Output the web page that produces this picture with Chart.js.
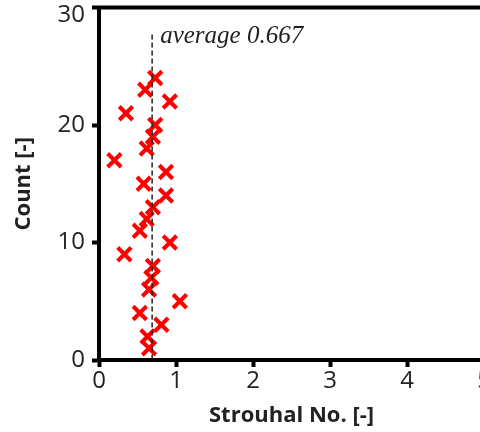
<!DOCTYPE html>
<html><head><meta charset="utf-8">
<script src="https://cdn.jsdelivr.net/npm/chart.js@4/dist/chart.umd.min.js"></script>
<style>html,body{margin:0;padding:0;overflow:hidden;background:#fff;width:480px;height:432px}</style>
</head><body>
<canvas id="c" width="510" height="438" style="display:block;width:510px;height:438px;margin-top:-6px"></canvas>
<script>
const counts = [1,2,3,4,5,6,7,8,9,10,11,12,13,14,15,16,17,18,19,20,21,22,23,24];
const strouhal = [0.65,0.63,0.81,0.53,1.05,0.65,0.68,0.70,0.33,0.92,0.53,0.62,0.70,0.87,0.58,0.87,0.20,0.62,0.70,0.73,0.35,0.92,0.60,0.73];
const xTicks = [0,1,2,3,4,5];
const yTicks = [0,10,20,30];
const averageLineX = 0.69;
const averageLineTop = 27.7;
const averageLabel = 'average 0.667';

const framePlugin = {
  id: 'frame',
  afterDraw(chart) {
    const {ctx, chartArea, scales} = chart;
    ctx.save();
    ctx.strokeStyle = '#000';
    ctx.lineWidth = 4;
    ctx.beginPath();
    ctx.moveTo(chartArea.left - 2, chartArea.top);
    ctx.lineTo(chart.width, chartArea.top);
    ctx.stroke();
    const x = scales.x.getPixelForValue(averageLineX);
    ctx.strokeStyle = '#222';
    ctx.lineWidth = 1.5;
    ctx.setLineDash([5, 3]);
    ctx.beginPath();
    ctx.moveTo(x, scales.y.getPixelForValue(averageLineTop));
    ctx.lineTo(x, scales.y.getPixelForValue(0));
    ctx.stroke();
    ctx.setLineDash([]);
    ctx.fillStyle = '#222';
    ctx.font = 'italic 25px "Liberation Serif", serif';
    ctx.textBaseline = 'alphabetic';
    ctx.textAlign = 'left';
    ctx.fillText(averageLabel, x + 8, scales.y.getPixelForValue(27.0));
    ctx.restore();
  }
};

new Chart(document.getElementById('c'), {
  type: 'scatter',
  data: {
    datasets: [{
      data: counts.map((c, i) => ({x: strouhal[i], y: c})),
      pointStyle: 'crossRot',
      pointRadius: 9.5,
      pointHoverRadius: 9.5,
      borderColor: '#ff0000',
      backgroundColor: '#ff0000',
      borderWidth: 4,
      showLine: false,
      clip: false
    }]
  },
  options: {
    responsive: false,
    animation: false,
    events: [],
    layout: {padding: {left: 0, right: 26, top: 8, bottom: 0}},
    plugins: {legend: {display: false}, tooltip: {enabled: false}},
    scales: {
      x: {
        type: 'linear', position: 'bottom', min: 0, max: 5,
        afterBuildTicks: s => { s.ticks = xTicks.map(v => ({value: v})); },
        afterFit: s => { s.height = 72; s.paddingLeft = 0; s.paddingRight = 0; },
        border: {display: true, color: '#000', width: 4},
        grid: {display: true, drawOnChartArea: false, drawTicks: true, tickLength: 7, tickWidth: 4, tickColor: '#000'},
        ticks: {color: '#222', font: {family: 'Open Sans', size: 24}, padding: 0, maxRotation: 0, autoSkip: false},
        title: {display: true, text: 'Strouhal No. [-]', color: '#222', font: {family: 'Open Sans', weight: 'bold', size: 22}, padding: {top: 0, bottom: 3}}
      },
      y: {
        type: 'linear', position: 'left', min: 0, max: 30,
        afterBuildTicks: s => { s.ticks = yTicks.map(v => ({value: v})); },
        afterFit: s => { s.width = 99; s.paddingTop = 0; s.paddingBottom = 0; },
        border: {display: true, color: '#000', width: 4},
        grid: {display: true, drawOnChartArea: false, drawTicks: true, tickLength: 7, tickWidth: 4, tickColor: '#000'},
        ticks: {
          color: '#222', font: {family: 'Open Sans', size: 24, lineHeight: 0.6}, padding: 7, autoSkip: false,
          callback: v => (v === yTicks[yTicks.length - 1] ? ['', String(v)] : String(v))
        },
        title: {display: true, text: 'Count [-]', color: '#222', font: {family: 'Open Sans', weight: 'bold', size: 22}, padding: {top: 11, bottom: 0}}
      }
    }
  },
  plugins: [framePlugin]
});
</script>
</body></html>
